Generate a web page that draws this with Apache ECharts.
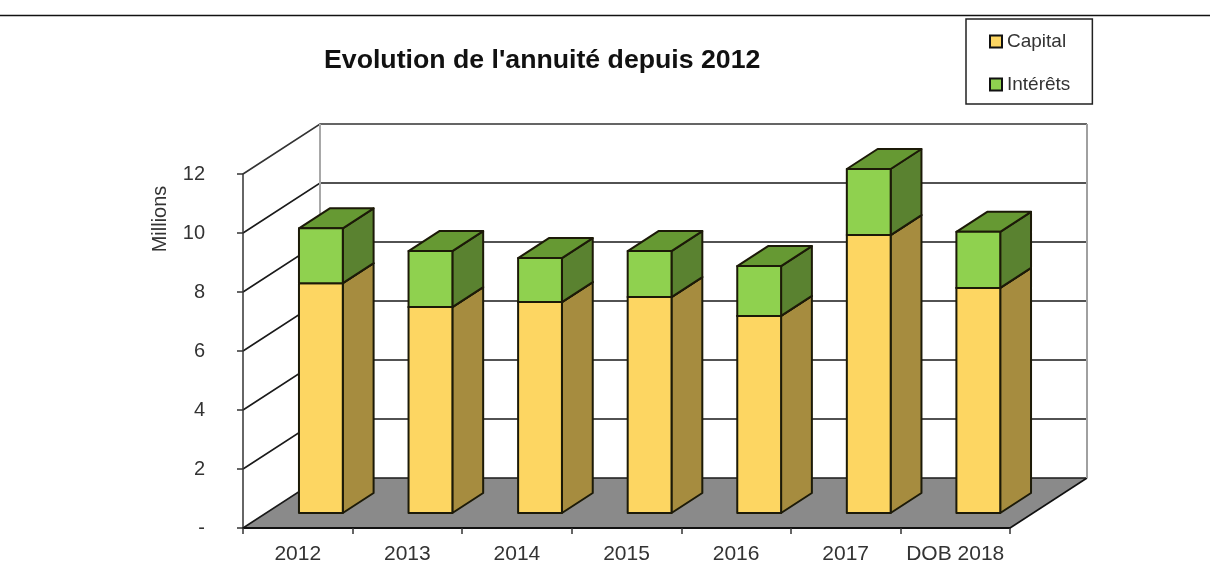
<!DOCTYPE html>
<html><head><meta charset="utf-8">
<style>html,body{margin:0;padding:0;background:#fff}#c{width:1210px;height:583px}</style>
<script src="https://cdn.jsdelivr.net/npm/echarts@6/dist/echarts.min.js"></script>
</head><body><div id="c"></div>
<script>
const categories = ['2012','2013','2014','2015','2016','2017','DOB 2018'];
const capital = [7.79,6.98,7.15,7.32,6.68,9.42,7.63];
const interets = [1.86,1.90,1.49,1.56,1.69,2.24,1.90];
const yTicks = [0,2,4,6,8,10,12];

const DX = 77, DY = -50;          // full depth of the 3D box
const F = 0.3, B = 0.7;           // bar front / back depth fractions
const BAR = 0.4;                  // bar width as fraction of band
const EDGE = '#1c1a08';

function wall(params, api) {
  const cs = params.coordSys;
  const l = cs.x, r = cs.x + cs.width;
  const y = api.coord([0, api.value(0)])[1];
  const kids = [];
  if (api.value(0) === 0) {
    kids.push({type:'polygon',shape:{points:[[l,y],[r,y],[r+DX,y+DY],[l+DX,y+DY]]},
      style:{fill:'#8a8a8a',stroke:null}});
    kids.push({type:'line',shape:{x1:r,y1:y,x2:r+DX,y2:y+DY},style:{stroke:'#111',lineWidth:1.6}});
  }
  kids.push({type:'polyline',shape:{points:[[l,y],[l+DX,y+DY],[r+DX,y+DY]]},
    style:{fill:null,stroke: api.value(0)===12 ? '#333' : '#1a1a1a',lineWidth:1.6}});
  return {type:'group',children:kids};
}
function wallEdges(params, api) {
  const cs = params.coordSys;
  const l = cs.x, r = cs.x + cs.width;
  const y0 = api.coord([0, 0])[1], y1 = api.coord([0, 12])[1];
  return {type:'group',children:[
    {type:'line',shape:{x1:l+DX,y1:y1+DY,x2:l+DX,y2:y0+DY},style:{stroke:'#a8a8a8',lineWidth:2}},
    {type:'line',shape:{x1:r+DX,y1:y1+DY,x2:r+DX,y2:y0+DY},style:{stroke:'#a0a0a0',lineWidth:2}}
  ]};
}
function bar3d(front, side, top) {
  return function (params, api) {
    const i = api.value(0), base = api.value(1), val = api.value(2);
    const c0 = api.coord([i, base]), c1 = api.coord([i, base + val]);
    const w = api.size([1, 0])[0] * BAR;
    const x0 = c0[0] - w / 2 + F * DX, x1 = x0 + w;
    const y0 = c0[1] + F * DY, y1 = c1[1] + F * DY;
    const dx = (B - F) * DX, dy = (B - F) * DY;
    const st = {stroke: EDGE, lineWidth: 2, lineJoin:'round'};
    const kids = [
      {type:'polygon',shape:{points:[[x1,y0],[x1+dx,y0+dy],[x1+dx,y1+dy],[x1,y1]]},style:Object.assign({fill:side},st)},
      {type:'polygon',shape:{points:[[x0,y1],[x1,y1],[x1+dx,y1+dy],[x0+dx,y1+dy]]},style:Object.assign({fill:top},st)},
      {type:'rect',shape:{x:x0,y:y1,width:w,height:y0-y1},style:Object.assign({fill:front},st)}
    ];
    return {type:'group',children:kids};
  };
}

const chart = echarts.init(document.getElementById('c'), null, {renderer:'canvas'});
chart.setOption({
  animation:false,
  backgroundColor:'#fff',
  title:{text:"Evolution de l'annuité depuis 2012",left:324,top:47,padding:0,
    textStyle:{fontFamily:'Liberation Sans',fontSize:26.7,fontWeight:'bold',color:'#111'}},
  legend:{
    orient:'vertical',left:966,top:19,
    padding:[13,22,10,23],itemGap:24,itemWidth:12,itemHeight:12,
    backgroundColor:'#fff',borderColor:'#222',borderWidth:1.5,
    textStyle:{fontFamily:'Liberation Sans',fontSize:19,color:'#333'},
    data:[
      {name:'Capital',icon:'rect',itemStyle:{color:'#FDD662',borderColor:'#111',borderWidth:2}},
      {name:'Intérêts',icon:'rect',itemStyle:{color:'#8FD14F',borderColor:'#111',borderWidth:2}}
    ]
  },
  graphic:[
    {type:'line',shape:{x1:0,y1:15.5,x2:1210,y2:15.5},style:{stroke:'#111',lineWidth:1.5},z:10},
    {type:'text',x:160,y:219,rotation:Math.PI/2,style:{text:'Millions',fontFamily:'Liberation Sans',fontSize:20,fill:'#333',align:'center',verticalAlign:'middle'},z:10}
  ],
  grid:{left:243,top:174,width:767,height:354,containLabel:false},
  xAxis:{type:'category',data:categories,z:5,
    axisLine:{lineStyle:{color:'#111',width:2}},
    axisTick:{show:true,alignWithLabel:false,length:6,lineStyle:{color:'#333',width:1.5}},
    axisLabel:{interval:0,fontFamily:'Liberation Sans',fontSize:21,color:'#333',margin:16},
    splitLine:{show:false}},
  yAxis:{type:'value',min:0,max:12,interval:2,z:5,
    axisLine:{show:true,lineStyle:{color:'#333',width:1.5}},
    axisTick:{show:true,length:6,lineStyle:{color:'#333',width:1.5}},
    axisLabel:{fontFamily:'Liberation Sans',fontSize:20,color:'#333',margin:38,
      formatter:v=>v===0?'-':String(v)},
    splitLine:{show:false}},
  series:[
    {type:'custom',name:'_walls',silent:true,z:1,renderItem:wall,encode:{y:0},
      data:yTicks.map(t=>[t]),coordinateSystem:'cartesian2d',clip:false},
    {type:'custom',name:'_edges',silent:true,z:1,renderItem:wallEdges,data:[[0]],clip:false},
    {type:'custom',name:'Capital',z:2,renderItem:bar3d('#FDD662','#A68C3F','#A68C3F'),
      encode:{x:0,y:[1,2]},data:capital.map((v,i)=>[i,0,v]),clip:false,itemStyle:{color:'#FDD662'}},
    {type:'custom',name:'Intérêts',z:3,renderItem:bar3d('#8FD14F','#5A8230','#669933'),
      encode:{x:0,y:[1,2]},data:interets.map((v,i)=>[i,capital[i],v]),clip:false,itemStyle:{color:'#8FD14F'}}
  ]
});
</script></body></html>
